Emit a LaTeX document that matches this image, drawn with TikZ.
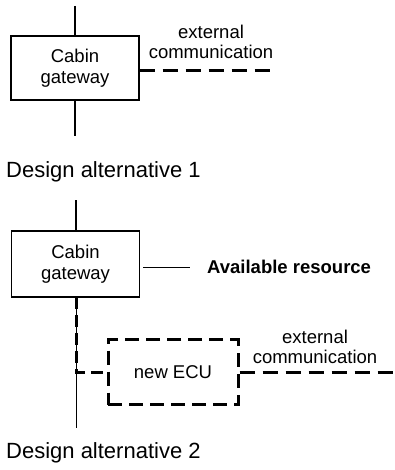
\documentclass[tikz,border=0pt]{standalone}
\usepackage{fontspec}
\setmainfont{Liberation Sans}
\begin{document}
\begin{tikzpicture}[x=1pt,y=-1pt,
  box/.style={draw, line width=1.3pt, minimum width=128pt, minimum height=64pt, inner sep=0pt, align=center, font=\fontsize{18.5}{21}\selectfont},
  bus/.style={line width=2pt},
  thinbus/.style={line width=1pt},
  ext/.style={line width=3pt, dash pattern=on 15pt off 8pt},
  ecubox/.style={draw, line width=3pt, dash pattern=on 14pt off 7pt, minimum width=130pt, minimum height=65pt, inner sep=0pt, font=\fontsize{18.5}{21}\selectfont},
  lbl/.style={font=\fontsize{18.5}{20}\selectfont, align=center, inner sep=0pt},
  title/.style={font=\fontsize{22}{24}\selectfont, anchor=west, inner sep=0pt}]
\path[use as bounding box] (0,0) rectangle (395,470);
% Design alternative 1
\node[box] (gw1) at (75,68) {Cabin\\gateway};
\coordinate (t1) at (75,6);
\coordinate (b1) at (75,136);
\draw[bus] (t1) -- (gw1.north);
\draw[bus] (gw1.south) -- (b1);
\coordinate (e1) at (275,71);
\draw[ext] (gw1.east |- e1) -- (e1);
\node[lbl] (ext1) at (211,42) {external\\communication};
\node[title] (d1) at (6,172) {Design alternative 1};
% Design alternative 2
\node[box, minimum height=66pt] (gw2) at (75.5,264) {Cabin\\gateway};
\coordinate (t2) at (75.5,200);
\draw[bus] (t2) -- (gw2.north);
\coordinate (a1) at (143,267);
\node[font=\bfseries\fontsize{18.5}{21}\selectfont, anchor=west, inner xsep=17pt, inner ysep=0pt] (avail) at (190,267) {Available resource};
\draw[line width=1pt] (a1) -- (avail.west);
\node[ecubox] (ecu) at (173,372) {new ECU};
\coordinate (j) at (76,372);
\coordinate (b2) at (76,428);
\coordinate (s2) at (76,297);
\draw[thinbus] (s2) -- (b2);
\draw[ext, dash pattern=on 12pt off 6pt] (s2) -- (j) -- (ecu.west);
\coordinate (e2) at (395,372);
\draw[ext] (ecu.east) -- (e2);
\node[lbl] (ext2) at (315,347) {external\\communication};
\node[title] (d2) at (6,453) {Design alternative 2};
\end{tikzpicture}
\end{document}
